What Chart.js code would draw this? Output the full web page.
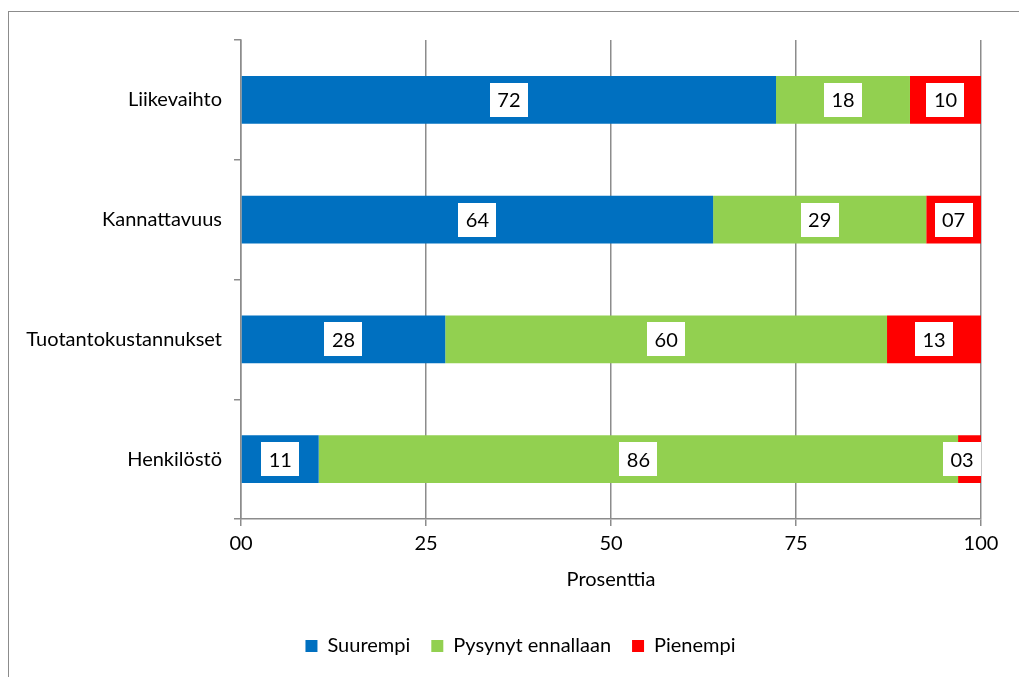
<!DOCTYPE html>
<html>
<head>
<meta charset="utf-8">
<script src="https://cdn.jsdelivr.net/npm/chart.js@4"></script>
<style>
  html, body { margin: 0; padding: 0; background: #fff; overflow: hidden; }
  #frame { position: absolute; left: 8px; top: 11px; width: 1040px; height: 700px; border: 1px solid #8c8c8c; }
  #wrap { position: absolute; left: 0; top: 0; width: 1019px; height: 677px; }
</style>
</head>
<body>
<div id="frame"></div>
<div id="wrap"><canvas id="chart"></canvas></div>
<script>
const categories = ['Liikevaihto', 'Kannattavuus', 'Tuotantokustannukset', 'Henkilöstö'];
const suurempi = [72.3, 63.8, 27.6, 10.5];
const pysynyt = [18.1, 28.8, 59.7, 86.4];
const pienempi = [9.6, 7.4, 12.7, 3.1];
const seriesNames = ['Suurempi', 'Pysynyt ennallaan', 'Pienempi'];
const xTicks = [0, 25, 50, 75, 100];

const FONT = 'Lato, "Open Sans", sans-serif';

// white boxes with the rounded value in the middle of each segment
const boxLabels = {
  id: 'boxLabels',
  afterDatasetsDraw(chart) {
    const ctx = chart.ctx;
    const area = chart.chartArea;
    ctx.save();
    ctx.font = '20px ' + FONT;
    ctx.textAlign = 'center';
    ctx.textBaseline = 'middle';
    chart.data.datasets.forEach((ds, i) => {
      const meta = chart.getDatasetMeta(i);
      meta.data.forEach((bar, j) => {
        const txt = String(Math.round(ds.data[j])).padStart(2, '0');
        const w = 38, h = 34;
        let cx = (bar.x + bar.base) / 2;
        if (cx + w / 2 > area.right) cx = area.right - w / 2;
        ctx.fillStyle = '#fff';
        ctx.fillRect(Math.round(cx - w / 2), Math.round(bar.y - h / 2), w, h);
        ctx.fillStyle = '#000';
        ctx.fillText(txt, cx, bar.y + 1);
      });
    });
    ctx.restore();
  }
};

// nudge the legend a bit to the right, like the original
const legendShift = {
  id: 'legendShift',
  afterLayout(chart) {
    chart.legend.left += 25;
    chart.legend.right += 25;
  }
};

new Chart(document.getElementById('chart'), {
  type: 'bar',
  data: {
    labels: categories,
    datasets: [
      { label: seriesNames[0], data: suurempi, backgroundColor: '#0070c0' },
      { label: seriesNames[1], data: pysynyt, backgroundColor: '#92d050' },
      { label: seriesNames[2], data: pienempi, backgroundColor: '#ff0000' }
    ]
  },
  options: {
    indexAxis: 'y',
    responsive: true,
    maintainAspectRatio: false,
    animation: false,
    categoryPercentage: 1,
    barPercentage: 0.4,
    layout: { padding: { top: 40, right: 38, left: 10, bottom: 11 } },
    scales: {
      x: {
        stacked: true,
        min: 0,
        max: 100,
        afterBuildTicks: s => { s.ticks = xTicks.map(v => ({ value: v })); },
        afterFit: s => { s.height = 96; },
        ticks: {
          color: '#000',
          font: { family: FONT, size: 20 },
          padding: 6,
          callback: v => String(v).padStart(2, '0')
        },
        grid: { color: '#8c8c8c', lineWidth: 1.5, tickLength: 7, drawTicks: true },
        border: { color: '#8c8c8c', width: 1.5 },
        title: {
          display: true,
          text: 'Prosenttia',
          color: '#000',
          font: { family: FONT, size: 20 },
          padding: { top: 0, bottom: 23 }
        }
      },
      y: {
        stacked: true,
        afterFit: s => { s.width = 231; },
        ticks: {
          color: '#000',
          font: { family: FONT, size: 20 },
          padding: 12
        },
        grid: { offset: true, drawOnChartArea: false, color: '#8c8c8c', lineWidth: 1.5, tickLength: 7 },
        border: { color: '#8c8c8c', width: 1.5 }
      }
    },
    plugins: {
      legend: {
        position: 'bottom',
        labels: {
          color: '#000',
          font: { family: FONT, size: 20 },
          boxWidth: 12,
          boxHeight: 12,
          padding: 21
        }
      },
      tooltip: { enabled: false }
    }
  },
  plugins: [boxLabels, legendShift]
});
</script>
</body>
</html>
